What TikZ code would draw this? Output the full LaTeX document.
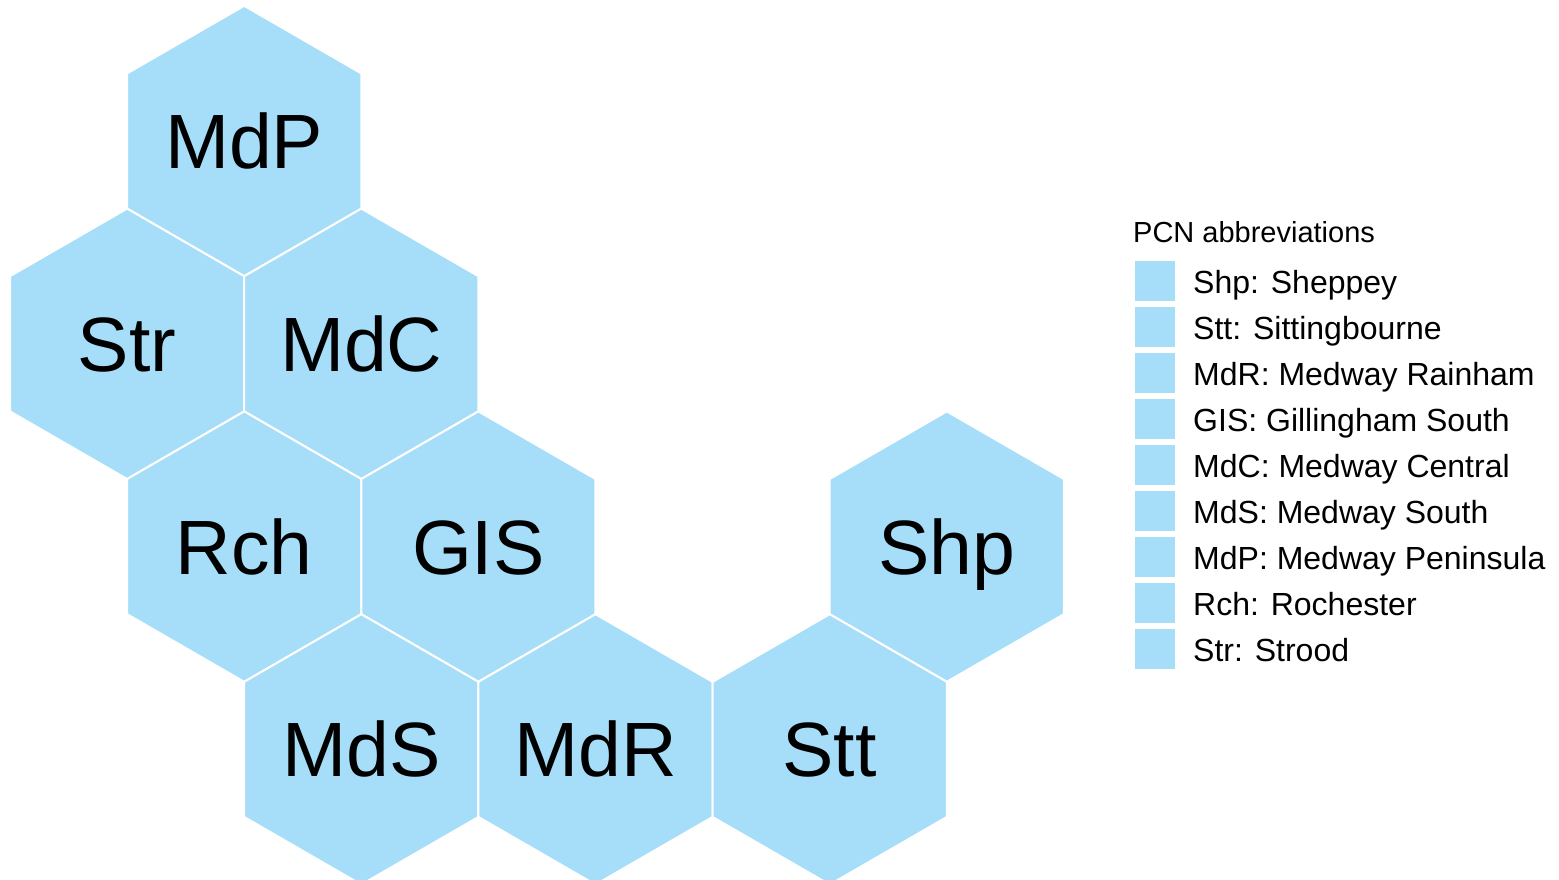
\documentclass[tikz,border=0pt]{standalone}
\usepackage{fontspec}
\setmainfont{Liberation Sans}
\usetikzlibrary{shapes.geometric}
\definecolor{hexblue}{RGB}{166,222,250}
\tikzset{
  hexcell/.style={regular polygon, regular polygon sides=6, shape border rotate=30,
    minimum size=270.4pt, inner sep=0pt, outer sep=0pt, fill=hexblue, draw=white,
    line width=2pt, text height=55pt, text depth=0pt, font=\fontsize{77}{77}\selectfont},
  legbox/.style={fill=hexblue, minimum size=40pt, inner sep=0pt, outer sep=0pt},
  legtext/.style={anchor=base west, inner sep=0pt, font=\fontsize{32}{32}\selectfont},
  legtitle/.style={anchor=base west, inner sep=0pt, font=\fontsize{29}{29}\selectfont}
}
\begin{document}
\begin{tikzpicture}[x=1pt,y=-1pt]
\useasboundingbox (0,0) rectangle (1559,880);
% hexagons
\node[hexcell] (MdP) at (244.2,141) {MdP};
\node[hexcell] (Str) at (127.1,343.8) {Str};
\node[hexcell] (MdC) at (361.3,343.8) {MdC};
\node[hexcell] (Rch) at (244.2,546.6) {Rch};
\node[hexcell] (GIS) at (478.4,546.6) {GIS};
\node[hexcell] (Shp) at (946.8,546.6) {Shp};
\node[hexcell] (MdS) at (361.3,749.4) {MdS};
\node[hexcell] (MdR) at (595.5,749.4) {MdR};
\node[hexcell] (Stt) at (829.7,749.4) {Stt};
% legend
\node[legtitle] (legT) at (1133,242) {PCN abbreviations};
\foreach \i/\txt in {0/Shp: Sheppey, 1/Stt: Sittingbourne, 2/MdR: Medway Rainham,
  3/GIS: Gillingham South, 4/MdC: Medway Central, 5/MdS: Medway South,
  6/MdP: Medway Peninsula, 7/Rch: Rochester, 8/Str: Strood} {
  \node[legbox] (lb\i) at (1155,281+46*\i) {};
  \node[legtext] (lt\i) at (1193,293+46*\i) {\txt};
}
\end{tikzpicture}
\end{document}
